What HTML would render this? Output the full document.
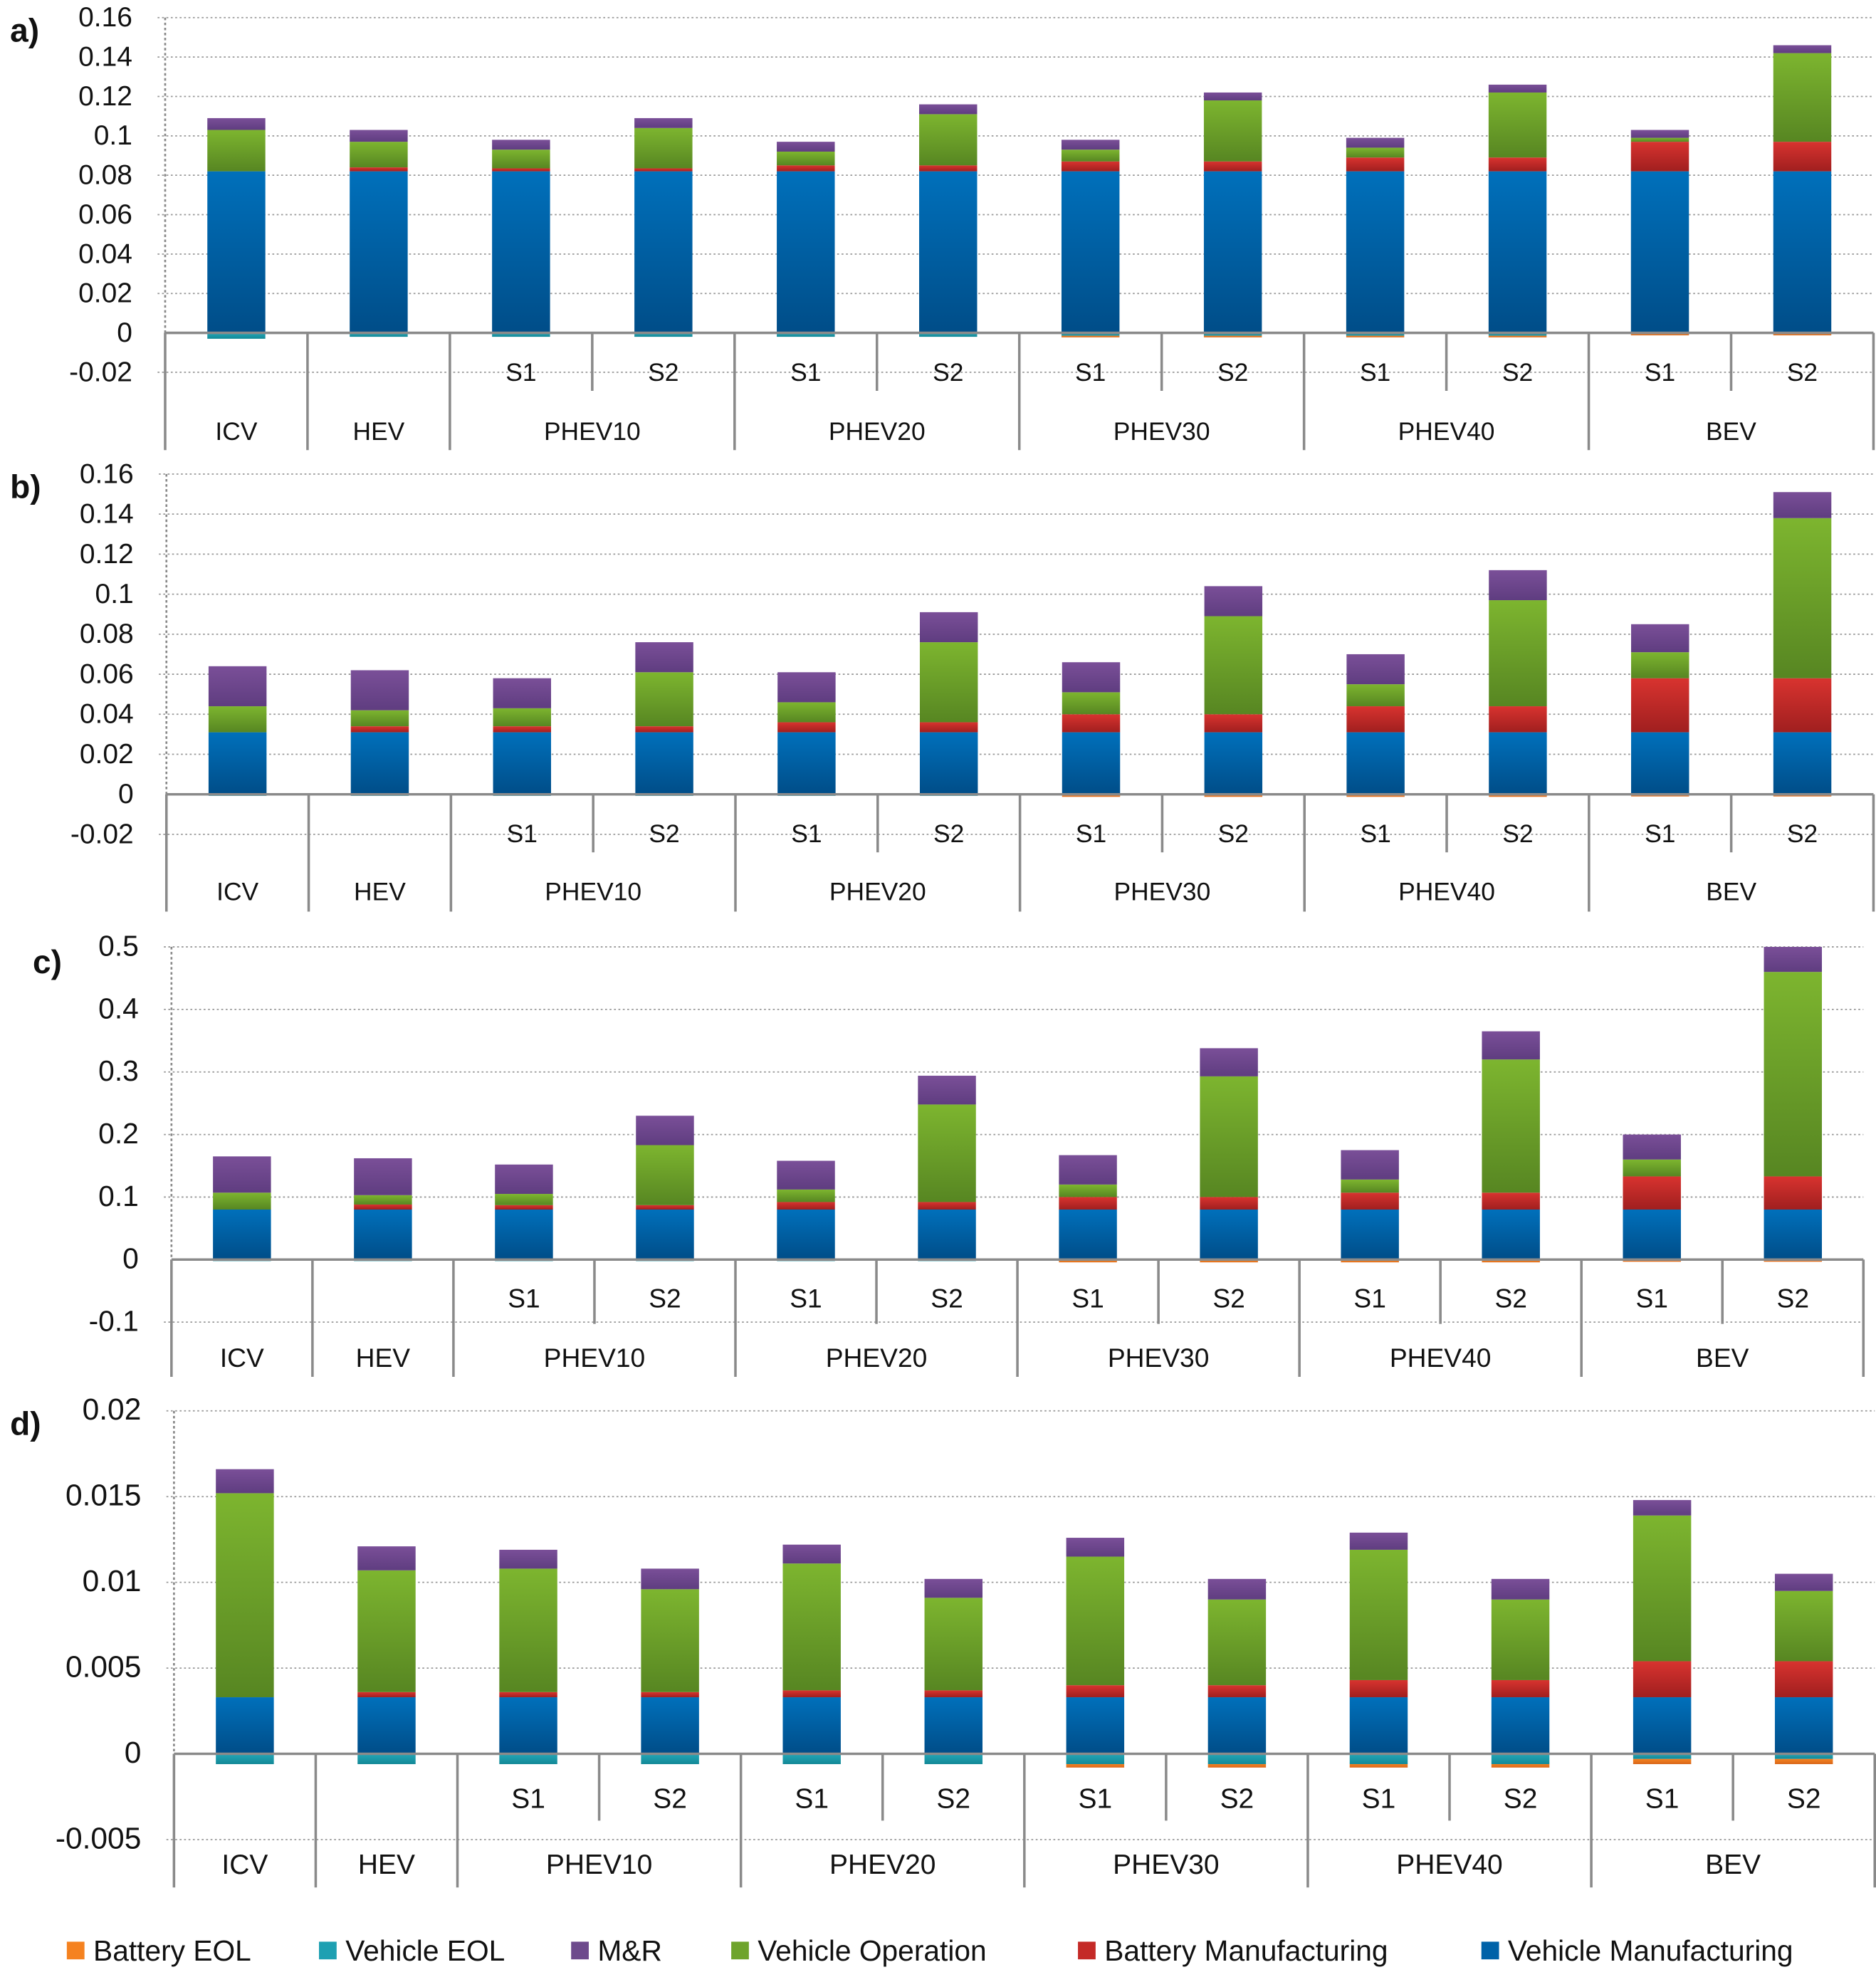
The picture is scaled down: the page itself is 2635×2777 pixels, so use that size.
<!DOCTYPE html>
<html><head><meta charset="utf-8">
<style>
html,body{margin:0;padding:0;background:#fff;}
svg{display:block;}
text{font-family:"Liberation Sans",sans-serif;fill:#111;}
</style></head>
<body>
<svg id="chart" width="2635" height="2777" viewBox="0 0 1488 1568" preserveAspectRatio="none" xmlns="http://www.w3.org/2000/svg">
<defs>
<linearGradient id="g-vm" x1="0" y1="0" x2="0" y2="1"><stop offset="0" stop-color="#0070bb"/><stop offset="1" stop-color="#004d88"/></linearGradient>
<linearGradient id="g-bm" x1="0" y1="0" x2="0" y2="1"><stop offset="0" stop-color="#d8332f"/><stop offset="1" stop-color="#a01f1f"/></linearGradient>
<linearGradient id="g-vo" x1="0" y1="0" x2="0" y2="1"><stop offset="0" stop-color="#7db52f"/><stop offset="1" stop-color="#578622"/></linearGradient>
<linearGradient id="g-mr" x1="0" y1="0" x2="0" y2="1"><stop offset="0" stop-color="#7a4f98"/><stop offset="1" stop-color="#5f3d80"/></linearGradient>
<linearGradient id="g-ve" x1="0" y1="0" x2="0" y2="1"><stop offset="0" stop-color="#22a7b8"/><stop offset="1" stop-color="#138896"/></linearGradient>
<linearGradient id="g-be" x1="0" y1="0" x2="0" y2="1"><stop offset="0" stop-color="#f58220"/><stop offset="1" stop-color="#d8661a"/></linearGradient>
</defs>
</svg>
<script>
const categories = ["ICV","HEV","PHEV10 S1","PHEV10 S2","PHEV20 S1","PHEV20 S2","PHEV30 S1","PHEV30 S2","PHEV40 S1","PHEV40 S2","BEV S1","BEV S2"];
const groups = ["ICV","HEV","PHEV10","PHEV20","PHEV30","PHEV40","BEV"];
// panel a
const aVM = [0.082,0.082,0.082,0.082,0.082,0.082,0.082,0.082,0.082,0.082,0.082,0.082];
const aBM = [0,0.002,0.0015,0.0015,0.003,0.003,0.005,0.005,0.007,0.007,0.015,0.015];
const aVO = [0.021,0.013,0.0095,0.0205,0.007,0.026,0.006,0.031,0.005,0.033,0.002,0.045];
const aMR = [0.006,0.006,0.005,0.005,0.005,0.005,0.005,0.004,0.005,0.004,0.004,0.004];
const aVE = [-0.003,-0.002,-0.002,-0.002,-0.002,-0.002,-0.0015,-0.0015,-0.0015,-0.0015,-0.0005,-0.0005];
const aBE = [0,0,0,0,0,0,-0.0005,-0.0005,-0.0005,-0.0005,-0.0005,-0.0005];
const aTicks = ["-0.02","0","0.02","0.04","0.06","0.08","0.1","0.12","0.14","0.16"];
// panel b
const bVM = [0.031,0.031,0.031,0.031,0.031,0.031,0.031,0.031,0.031,0.031,0.031,0.031];
const bBM = [0,0.003,0.003,0.003,0.005,0.005,0.009,0.009,0.013,0.013,0.027,0.027];
const bVO = [0.013,0.008,0.009,0.027,0.010,0.040,0.011,0.049,0.011,0.053,0.013,0.080];
const bMR = [0.020,0.020,0.015,0.015,0.015,0.015,0.015,0.015,0.015,0.015,0.014,0.013];
const bVE = [-0.0005,-0.0005,-0.0005,-0.0005,-0.0005,-0.0005,-0.0005,-0.0005,-0.0005,-0.0005,-0.0003,-0.0003];
const bBE = [0,0,0,0,0,0,-0.0003,-0.0003,-0.0003,-0.0003,-0.0003,-0.0003];
const bTicks = ["-0.02","0","0.02","0.04","0.06","0.08","0.1","0.12","0.14","0.16"];
// panel c
const cVM = [0.08,0.08,0.08,0.08,0.08,0.08,0.08,0.08,0.08,0.08,0.08,0.08];
const cBM = [0,0.008,0.007,0.007,0.012,0.012,0.020,0.020,0.027,0.027,0.053,0.053];
const cVO = [0.027,0.015,0.018,0.096,0.020,0.156,0.020,0.193,0.021,0.213,0.027,0.327];
const cMR = [0.058,0.059,0.047,0.047,0.046,0.046,0.047,0.045,0.047,0.045,0.040,0.040];
const cVE = [-0.002,-0.002,-0.002,-0.002,-0.002,-0.002,-0.002,-0.002,-0.002,-0.002,-0.001,-0.001];
const cBE = [0,0,0,0,0,0,-0.001,-0.001,-0.001,-0.001,-0.001,-0.001];
const cTicks = ["-0.1","0","0.1","0.2","0.3","0.4","0.5"];
// panel d
const dVM = [0.0033,0.0033,0.0033,0.0033,0.0033,0.0033,0.0033,0.0033,0.0033,0.0033,0.0033,0.0033];
const dBM = [0,0.0003,0.0003,0.0003,0.0004,0.0004,0.0007,0.0007,0.001,0.001,0.0021,0.0021];
const dVO = [0.0119,0.0071,0.0072,0.006,0.0074,0.0054,0.0075,0.005,0.0076,0.0047,0.0085,0.0041];
const dMR = [0.0014,0.0014,0.0011,0.0012,0.0011,0.0011,0.0011,0.0012,0.001,0.0012,0.0009,0.001];
const dVE = [-0.0006,-0.0006,-0.0006,-0.0006,-0.0006,-0.0006,-0.0006,-0.0006,-0.0006,-0.0006,-0.0003,-0.0003];
const dBE = [0,0,0,0,0,0,-0.0002,-0.0002,-0.0002,-0.0002,-0.0003,-0.0003];
const dTicks = ["-0.005","0","0.005","0.01","0.015","0.02"];

const NS = "http://www.w3.org/2000/svg";
const svg = document.getElementById('chart');
function mk(tag, attrs, parent){const e=document.createElementNS(NS,tag);for(const k in attrs)e.setAttribute(k,attrs[k]);(parent||svg).appendChild(e);return e;}

const panels = [
 {id:'a',vm:aVM,bm:aBM,vo:aVO,mr:aMR,ve:aVE,be:aBE,ticks:aTicks,min:-0.02,max:0.16,left:131,right:1486,top:14,zero:264,sepBot:357,innerBot:310,sY:295,gY:342,fs:20,letterX:8,letterY:33},
 {id:'b',vm:bVM,bm:bBM,vo:bVO,mr:bMR,ve:bVE,be:bBE,ticks:bTicks,min:-0.02,max:0.16,left:132,right:1486,top:376,zero:630,sepBot:723,innerBot:676,sY:661,gY:707,fs:20,letterX:8,letterY:395},
 {id:'c',vm:cVM,bm:cBM,vo:cVO,mr:cMR,ve:cVE,be:cBE,ticks:cTicks,min:-0.1,max:0.5,left:136,right:1478,top:751,zero:999,sepBot:1092,innerBot:1050,sY:1030,gY:1077,fs:21,letterX:26,letterY:772},
 {id:'d',vm:dVM,bm:dBM,vo:dVO,mr:dMR,ve:dVE,be:dBE,ticks:dTicks,min:-0.005,max:0.02,left:138,right:1487,top:1119,zero:1391,sepBot:1497,innerBot:1444,sY:1427,gY:1479,fs:22,letterX:8,letterY:1138}
];

panels.forEach(p=>{
  const g = mk('g',{});
  
  
  const yScale = v => p.zero - (v/p.max)*(p.zero-p.top);
  const slot = (p.right-p.left)/12;
  const xCenter = i => p.left + slot*(i+0.5);
  const lt = mk('text',{x:p.letterX,y:p.letterY,'font-size':26,'font-weight':'bold'},g);
  lt.textContent = p.id+')';
  
  
  p.ticks.forEach(t=>{
    const v=parseFloat(t); const y=yScale(v);
    if(v!==0){
      const gl=mk('line',{x1:p.left-6,x2:p.right,y1:y,y2:y,stroke:'#999','stroke-width':1,'stroke-dasharray':'1.5,2'},g);
      
      
    }
    const tx=mk('text',{x:p.left-26,y:y+7,'font-size':p.fs+2,'text-anchor':'end'},g);
    tx.textContent=t;
    
    
  });
  const ya=mk('line',{x1:p.left,x2:p.left,y1:p.top,y2:p.zero,stroke:'#888','stroke-width':1.5,'stroke-dasharray':'2,2'},g);
  
  
  for(let i=0;i<12;i++){
    const bw=46, x=xCenter(i)-bw/2;
    const bar=mk('g',{},g);
    
    
    let base=0;
    [[p.vm,'g-vm'],[p.bm,'g-bm'],[p.vo,'g-vo'],[p.mr,'g-mr']].forEach(([arr,fill])=>{
      const v=arr[i]; if(v<=0) return;
      const y1=yScale(base+v), y0=yScale(base);
      const r=mk('rect',{x:x,y:y1,width:bw,height:y0-y1,fill:'url(#'+fill+')'},bar);
      
      
      base+=v;
    });
    let nb=0;
    [[p.ve,'g-ve'],[p.be,'g-be']].forEach(([arr,fill])=>{
      const v=arr[i]; if(v>=0) return;
      const y0=yScale(nb), y1=yScale(nb+v);
      const r=mk('rect',{x:x,y:y0,width:bw,height:Math.max(y1-y0,1.2),fill:'url(#'+fill+')'},bar);
      
      
      nb+=v;
    });
  }
  const xa=mk('line',{x1:p.left,x2:p.right,y1:p.zero,y2:p.zero,stroke:'#8a8a8a','stroke-width':2},g);
  
  
  [0,1,2,4,6,8,10,12].forEach(s=>{
    const sx=p.left+slot*s;
    const l=mk('line',{x1:sx,x2:sx,y1:p.zero,y2:p.sepBot,stroke:'#8a8a8a','stroke-width':2},g);
    
    
  });
  [3,5,7,9,11].forEach(s=>{
    const sx=p.left+slot*s;
    const l=mk('line',{x1:sx,x2:sx,y1:p.zero,y2:p.innerBot,stroke:'#8a8a8a','stroke-width':2},g);
    
    
  });
  for(let i=2;i<12;i++){
    const t=mk('text',{x:xCenter(i),y:p.sY+7,'font-size':p.fs,'text-anchor':'middle'},g);
    t.textContent = i%2===0?'S1':'S2';
    
    
  }
  const gc=[0.5,1.5,3,5,7,9,11];
  groups.forEach((gname,k)=>{
    const t=mk('text',{x:p.left+slot*gc[k],y:p.gY+7,'font-size':p.fs,'text-anchor':'middle'},g);
    t.textContent=gname;
    
    
  });
});

const legendNames=["Battery EOL","Vehicle EOL","M&R","Vehicle Operation","Battery Manufacturing","Vehicle Manufacturing"];
const legendFills=['#f58220','#1ea0b2','#6d4a8c','#6ea42c','#c42a27','#0062a8'];
const legendX=[53,253,453,580,855,1175];
const lg=mk('g',{});


legendNames.forEach((n,i)=>{
  const e=mk('g',{},lg);
  
  
  mk('rect',{x:legendX[i],y:1540,width:14,height:14,fill:legendFills[i]},e);
  const t=mk('text',{x:legendX[i]+21,y:1555,'font-size':23},e);
  t.textContent=n;
});
</script>
</body></html>
